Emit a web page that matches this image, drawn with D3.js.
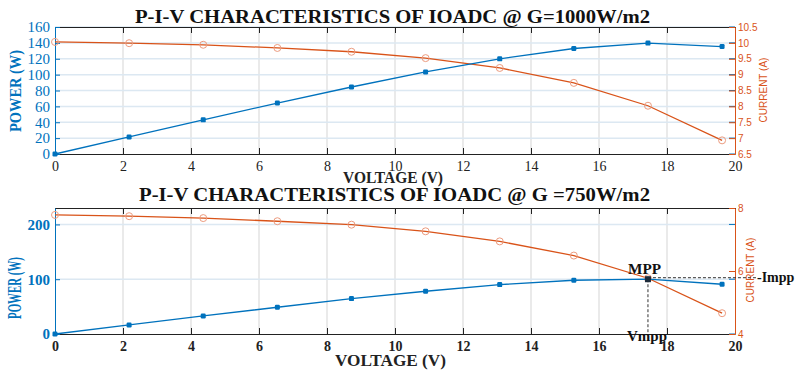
<!DOCTYPE html>
<html>
<head>
<meta charset="utf-8">
<script src="https://cdn.jsdelivr.net/npm/d3@7"></script>
<style>
  body { margin: 0; background: #fff; }
  svg { display: block; }
</style>
</head>
<body>
<svg id="chart"></svg>
<script>
// data
const voltage = [0, 2.18, 4.36, 6.54, 8.72, 10.9, 13.08, 15.26, 17.44, 19.62];
const power1000 = [0, 21.5, 43, 64.2, 84.4, 103.4, 119.9, 132.9, 139.7, 135.4];
const current1000 = [10.03, 9.99, 9.94, 9.84, 9.72, 9.52, 9.21, 8.74, 8.02, 6.93];
const power750 = [0, 16.5, 32.9, 48.8, 64.6, 78, 90.2, 98.1, 100, 90.8];
const current750 = [7.78, 7.74, 7.68, 7.58, 7.47, 7.26, 6.94, 6.49, 5.77, 4.66];

const xTicks = [0, 2, 4, 6, 8, 10, 12, 14, 16, 18, 20];
const powerTicks1000 = [0, 20, 40, 60, 80, 100, 120, 140, 160];
const currentTicks1000 = [6.5, 7, 7.5, 8, 8.5, 9, 9.5, 10, 10.5];
const powerTicks750 = [0, 100, 200];
const currentTicks750 = [4, 6, 8];

const BLUE = "#0072BD";
const ORANGE = "#D95319";
const SERIF = "'Liberation Serif', 'Times New Roman', serif";
const SANS = "'Liberation Sans', Arial, sans-serif";

const W = 797, H = 372;
const svg = d3.select("#chart").attr("width", W).attr("height", H);

function panel(cfg) {
  const x = d3.scaleLinear([0, 20], [55, 735]);
  const yP = d3.scaleLinear(cfg.pDomain, [cfg.bottom, cfg.top]);
  const yI = d3.scaleLinear(cfg.iDomain, [cfg.bottom, cfg.top]);
  const g = svg.append("g");
  const weight = cfg.bold ? "bold" : "normal";

  // grid
  g.append("g").selectAll("line").data(xTicks.slice(1, -1)).join("line")
    .attr("x1", d => x(d)).attr("x2", d => x(d))
    .attr("y1", cfg.top).attr("y2", cfg.bottom)
    .attr("stroke", "#e3e3e3").attr("stroke-width", 1.5);
  g.append("g").selectAll("line").data(cfg.pTicks.slice(1)).join("line")
    .attr("x1", 55).attr("x2", 735)
    .attr("y1", d => yP(d)).attr("y2", d => yP(d))
    .attr("stroke", "#dce8f2").attr("stroke-width", 1.5);

  // x axis (bottom) and box top
  g.append("g")
    .attr("transform", `translate(0,${cfg.bottom})`)
    .call(d3.axisBottom(x).tickValues(xTicks).tickSizeInner(-6).tickSizeOuter(0).tickPadding(7))
    .call(a => a.selectAll("path,line").attr("stroke", "#222"))
    .call(a => a.selectAll("text").attr("fill", "#222")
      .style("font", `${weight} 14px ${SERIF}`));
  g.append("g")
    .attr("transform", `translate(0,${cfg.top})`)
    .call(d3.axisTop(x).tickValues(xTicks).tickSizeInner(-6).tickSizeOuter(0).tickFormat(""))
    .call(a => a.selectAll("path,line").attr("stroke", "#222"));

  // left axis (power)
  g.append("g")
    .attr("transform", "translate(55,0)")
    .call(d3.axisLeft(yP).tickValues(cfg.pTicks).tickSizeInner(-5).tickSizeOuter(0).tickPadding(5))
    .call(a => a.selectAll("path,line").attr("stroke", BLUE))
    .call(a => a.selectAll("text").attr("fill", BLUE)
      .style("font", `${weight} 15px ${SERIF}`));
  // mirrored power ticks on right side
  g.append("g").selectAll("line").data(cfg.pTicks).join("line")
    .attr("x1", 729).attr("x2", 735)
    .attr("y1", d => yP(d)).attr("y2", d => yP(d))
    .attr("stroke", BLUE);

  // right axis (current)
  g.append("g")
    .attr("transform", "translate(735,0)")
    .call(d3.axisRight(yI).tickValues(cfg.iTicks).tickSizeInner(-6).tickSizeOuter(0).tickPadding(3)
      .tickFormat(d3.format("")))
    .call(a => a.selectAll("path,line").attr("stroke", ORANGE))
    .call(a => a.selectAll("text").attr("fill", ORANGE)
      .style("font", `10px ${SANS}`));

  // lines
  const lineP = d3.line().x((d, i) => x(voltage[i])).y(d => yP(d));
  const lineI = d3.line().x((d, i) => x(voltage[i])).y(d => yI(d));

  g.append("path").attr("d", lineI(cfg.current))
    .attr("fill", "none").attr("stroke", ORANGE).attr("stroke-width", 1.3);
  g.append("g").selectAll("circle").data(cfg.current).join("circle")
    .attr("cx", (d, i) => x(voltage[i])).attr("cy", d => yI(d)).attr("r", 3.5)
    .attr("fill", "none").attr("stroke", "#ec9c80").attr("stroke-width", 1);

  g.append("path").attr("d", lineP(cfg.power))
    .attr("fill", "none").attr("stroke", BLUE).attr("stroke-width", 1.3);
  g.append("g").selectAll("rect").data(cfg.power).join("rect")
    .attr("x", (d, i) => x(voltage[i]) - 2.5).attr("y", d => yP(d) - 2.5)
    .attr("width", 5).attr("height", 5).attr("rx", 1.2)
    .attr("fill", BLUE);

  // texts
  svg.append("text")
    .attr("x", cfg.titleX).attr("y", cfg.titleY)
    .attr("textLength", cfg.titleW).attr("lengthAdjust", "spacingAndGlyphs")
    .style("font", `bold 18px ${SERIF}`).attr("fill", "#111")
    .text(cfg.title);
  svg.append("text")
    .attr("x", cfg.xLabelX).attr("y", cfg.xLabelY)
    .attr("textLength", cfg.xLabelW).attr("lengthAdjust", "spacingAndGlyphs")
    .style("font", `bold 16px ${SERIF}`).attr("fill", "#222")
    .text("VOLTAGE (V)");
  svg.append("text")
    .attr("transform", `translate(21,${cfg.yLabelC}) rotate(-90)`)
    .attr("text-anchor", "middle")
    .attr("textLength", cfg.yLabelW).attr("lengthAdjust", "spacingAndGlyphs")
    .style("font", `bold ${cfg.yLabelSize}px ${SERIF}`).attr("fill", BLUE)
    .text("POWER (W)");
  svg.append("text")
    .attr("transform", `translate(${cfg.iLabelX},${cfg.iLabelC}) rotate(-90)`)
    .attr("text-anchor", "middle")
    .style("font", `10px ${SANS}`).attr("fill", ORANGE)
    .text("CURRENT (A)");

  return { x, yP, yI, g };
}

panel({
  top: 27, bottom: 154,
  pDomain: [0, 160], iDomain: [6.5, 10.5],
  pTicks: powerTicks1000, iTicks: currentTicks1000,
  power: power1000, current: current1000, bold: false,
  title: "P-I-V CHARACTERISTICS OF IOADC @ G=1000W/m2",
  titleX: 135, titleY: 23, titleW: 515,
  xLabelX: 343, xLabelY: 183, xLabelW: 100,
  yLabelC: 91, yLabelW: 82, yLabelSize: 17,
  iLabelX: 767, iLabelC: 90
});

const p2 = panel({
  top: 208, bottom: 334,
  pDomain: [0, 230], iDomain: [4, 8],
  pTicks: powerTicks750, iTicks: currentTicks750,
  power: power750, current: current750, bold: true,
  title: "P-I-V CHARACTERISTICS OF IOADC @ G =750W/m2",
  titleX: 139, titleY: 201, titleW: 511,
  xLabelX: 335, xLabelY: 366, xLabelW: 111,
  yLabelC: 288, yLabelW: 62, yLabelSize: 18,
  iLabelX: 754, iLabelC: 270
});

// MPP annotation on the 750 W/m2 panel
const mppIdx = 8;
const mx = p2.x(voltage[mppIdx]);
const my = p2.yP(power750[mppIdx]);
const ann = svg.append("g");
ann.append("line")
  .attr("x1", mx).attr("x2", 757).attr("y1", my - 1.5).attr("y2", my - 1.5)
  .attr("stroke", "#333").attr("stroke-dasharray", "3,2");
ann.append("line")
  .attr("x1", mx).attr("x2", mx).attr("y1", my).attr("y2", 334)
  .attr("stroke", "#333").attr("stroke-dasharray", "3,2");
ann.append("rect")
  .attr("x", mx - 3).attr("y", my - 3).attr("width", 6).attr("height", 6)
  .attr("fill", "#1d2b3a");
ann.append("text").attr("x", 628).attr("y", 274)
  .attr("textLength", 33).attr("lengthAdjust", "spacingAndGlyphs")
  .style("font", `bold 14px ${SERIF}`).attr("fill", "#111").text("MPP");
ann.append("text").attr("x", 757).attr("y", 282)
  .style("font", `bold 14px ${SERIF}`).attr("fill", "#111").text("-Impp");
ann.append("text").attr("x", 627).attr("y", 341)
  .attr("textLength", 40).attr("lengthAdjust", "spacingAndGlyphs")
  .style("font", `bold 14px ${SERIF}`).attr("fill", "#111").text("Vmpp");
</script>
</body>
</html>
